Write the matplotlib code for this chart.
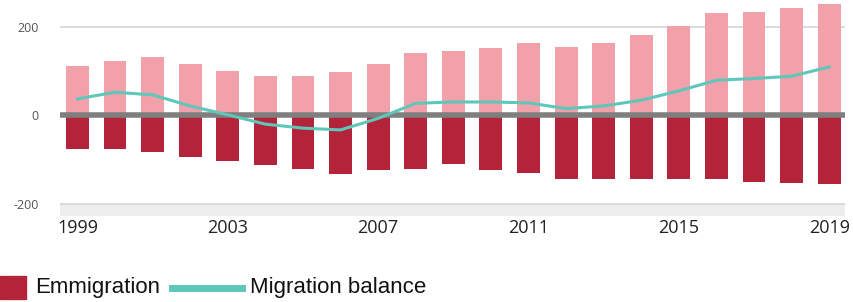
import numpy as np
import matplotlib
matplotlib.use("Agg")
import matplotlib.pyplot as plt
from matplotlib.patches import Rectangle
from matplotlib.lines import Line2D

years = list(range(1999, 2020))
immigration = [111, 122, 131, 116, 99, 88, 88, 97, 116, 140, 145, 151,
               163, 154, 163, 180, 202, 230, 233, 242, 251]
emigration = [-77, -77, -83, -93, -104, -112, -121, -132, -124, -121, -111, -123,
              -131, -144, -143, -143, -143, -143, -151, -152, -156]
balance = [37, 52, 46, 21, 1, -20, -29, -33, -7, 27, 30, 30,
           28, 15, 21, 34, 55, 79, 83, 88, 109]
xtick_years = [1999, 2003, 2007, 2011, 2015, 2019]
ytick_vals = [-200, 0, 200]

c_imm = "#F2A0AA"
c_emi = "#B3243A"
c_bal = "#5EC7B9"

fig = plt.figure(figsize=(8.54, 3.02), dpi=100)
ax = fig.add_axes([0.070, 0.285, 0.919, 0.715])

ax.axhspan(-235, -200, color="#EDEDED", lw=0, zorder=0)
for v in [200, -200]:
    ax.axhline(v, color="#D4D4D4", lw=1.2, zorder=1)

ax.bar(years, immigration, width=0.61, color=c_imm, zorder=2)
ax.bar(years, emigration, width=0.61, color=c_emi, zorder=2)
ax.axhline(0, color="#7F7F7F", lw=4, zorder=3)
ax.plot(years, balance, color=c_bal, lw=2.2, solid_joinstyle="round", zorder=4)

ax.set_xlim(1998.53, 2019.41)
ax.set_ylim(-227, 260)
ax.set_xticks(xtick_years)
ax.set_xticklabels([str(y) for y in xtick_years], fontsize=13,
                   family="Open Sans", color="#222222")
ax.set_yticks(ytick_vals)
ax.set_yticklabels([str(v) for v in ytick_vals], fontsize=9,
                   family="Open Sans", color="#555555")
ax.tick_params(axis="x", length=0, pad=2)
ax.tick_params(axis="y", length=0, pad=15)
for s in ax.spines.values():
    s.set_visible(False)

# legend along the bottom edge
fig.patches.append(Rectangle((0.0, 0.01), 26 / 854, 23 / 302, color=c_emi,
                             transform=fig.transFigure, figure=fig))
fig.lines.append(Line2D([172 / 854, 242 / 854], [0.047, 0.047], color=c_bal,
                        lw=5, transform=fig.transFigure, figure=fig))
legend_font = "Liberation Sans"
fig.text(35 / 854, 0.047, "Emmigration", fontsize=16, family=legend_font,
         va="center", ha="left", color="#111111")
fig.text(250 / 854, 0.047, "Migration balance", fontsize=16, family=legend_font,
         va="center", ha="left", color="#111111")

fig.savefig("out.png", dpi=100)
